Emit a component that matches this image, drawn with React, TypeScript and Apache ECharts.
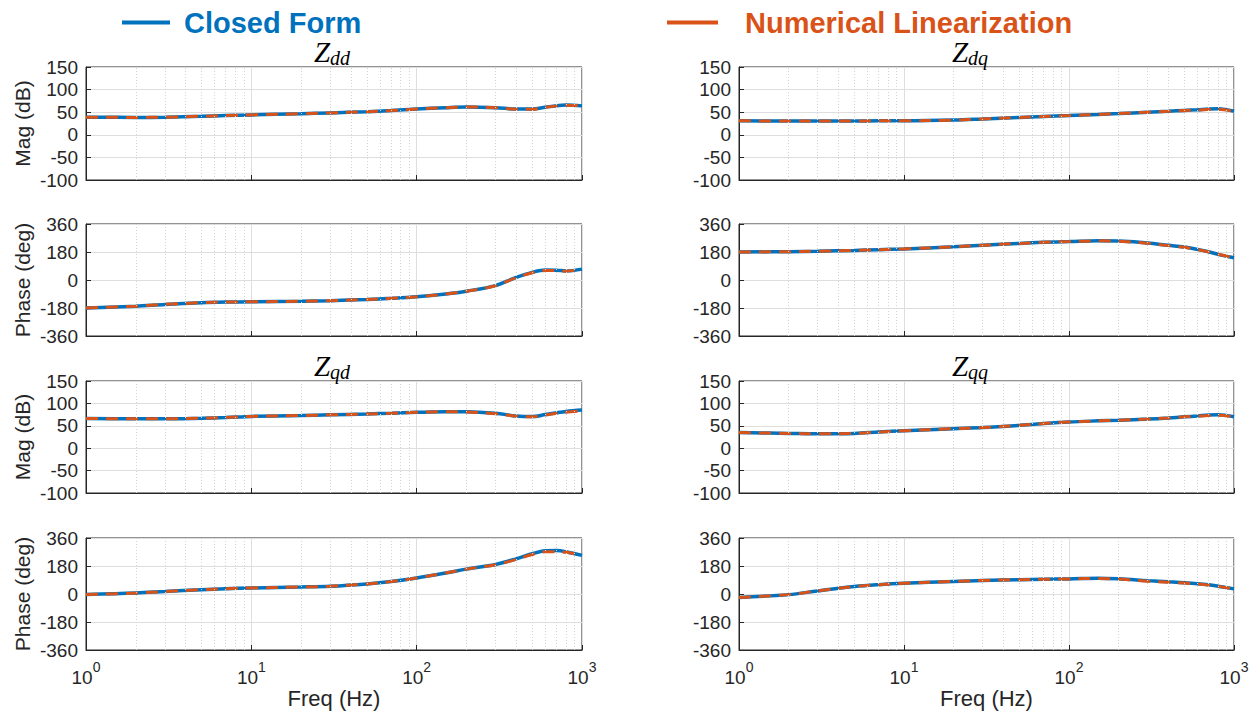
import React, { useEffect, useRef } from "react";
import * as echarts from "echarts";

// Frequency samples (Hz)
const freq = [1, 2, 3, 5, 7, 10, 20, 30, 50, 70, 100, 150, 200, 300, 400, 500, 600, 700, 800, 1000];

// Z_dd
const zddMagCF = [39, 38.5, 39, 41, 42.5, 44, 46.5, 48.5, 51, 53.5, 57, 60, 61.5, 60, 57, 57, 61, 64.5, 66, 64];
const zddMagNL = [39, 38.5, 39, 41, 42.5, 44, 46.5, 48.5, 51, 53.5, 57, 60, 61.5, 60, 56.5, 56.5, 60.5, 64, 65.5, 64];
const zddPhCF = [-180, -168, -157, -146, -142, -140, -137, -133, -125, -118, -108, -90, -72, -36, 17, 49, 64, 63, 58, 70];
const zddPhNL = [-180, -168, -157, -146, -142, -140, -137, -133, -125, -118, -108, -90, -72, -37, 15, 47, 61, 61, 57, 70];

// Z_dq
const zdqMagCF = [31, 30.5, 30.5, 30.5, 31, 31, 32.5, 35, 38.5, 40.5, 42.5, 45, 47, 50, 52, 54, 55.5, 57, 57.5, 52];
const zdqMagNL = [31, 30.5, 30.5, 30.5, 31, 31, 32.5, 35, 38.5, 40.5, 42.5, 45, 47, 50, 52, 54, 55, 56, 56.5, 52];
const zdqPhCF = [180, 182, 185, 190, 195, 200, 213, 223, 235, 242, 247, 253, 250, 238, 223, 212, 197, 182, 165, 143];
const zdqPhNL = [180, 182, 185, 190, 195, 200, 213, 223, 235, 242, 247, 252, 249, 236, 221, 210, 196, 181, 165, 143];

// Z_qd
const zqdMagCF = [66.5, 65.5, 65.5, 67, 68.5, 71, 73, 74.5, 76.5, 78, 80, 81.5, 81.5, 78, 72, 70.5, 75, 79, 82, 85];
const zqdMagNL = [66.5, 65.5, 65.5, 67, 68.5, 71, 73, 74.5, 76.5, 78, 80, 81.5, 81, 77, 71.5, 70, 74, 78, 80.5, 83];
const zqdPhCF = [-3, 6, 16, 28, 34, 39, 45, 50, 65, 80, 103, 135, 160, 190, 226, 259, 278, 280, 272, 248];
const zqdPhNL = [-3, 6, 16, 28, 34, 39, 45, 50, 65, 80, 103, 135, 160, 188, 222, 254, 271, 272, 268, 248];

// Z_qq
const zqqMagCF = [35, 33, 32, 33, 36, 39, 43.5, 46, 51, 55, 58.5, 61, 62.5, 65, 67.5, 70, 72, 74, 74.5, 70];
const zqqMagNL = [35, 33, 32, 33, 36, 39, 43.5, 46, 51, 55, 58.5, 61, 62.5, 65, 67.5, 70, 71.5, 73, 73.5, 70];
const zqqPhCF = [-22, -4, 20, 48, 60, 69, 81, 87, 92, 95, 97, 102, 98, 86, 78, 72, 66, 59, 50, 33];
const zqqPhNL = [-22, -4, 20, 48, 60, 69, 81, 87, 92, 95, 97, 100, 96, 82, 75, 70, 64, 57, 49, 33];

// Axis ticks
const magTicks = { min: -100, max: 150, interval: 50 };
const phaseTicks = { min: -360, max: 360, interval: 180 };
const minorGridFreq = [2, 3, 4, 5, 6, 7, 8, 9, 20, 30, 40, 50, 60, 70, 80, 90, 200, 300, 400, 500, 600, 700, 800, 900];

const seriesNames = ["Closed Form", "Numerical Linearization"];
const titles = ["dd", "dq", "qd", "qq"];

const BLUE = "#0072BD";
const ORANGE = "#D95319";
const AX = "#262626";
const FONT = "'Liberation Sans', Arial, sans-serif";
const SERIF = "'Liberation Serif', 'DejaVu Serif', serif";

export default function App() {
  const ref = useRef<HTMLDivElement>(null);

  useEffect(() => {
    if (!ref.current) return;
    const chart = echarts.init(ref.current, undefined, { renderer: "svg" });

    const panels = [
      { cf: zddMagCF, nl: zddMagNL, kind: "mag", col: 0, row: 0 },
      { cf: zdqMagCF, nl: zdqMagNL, kind: "mag", col: 1, row: 0 },
      { cf: zddPhCF, nl: zddPhNL, kind: "ph", col: 0, row: 1 },
      { cf: zdqPhCF, nl: zdqPhNL, kind: "ph", col: 1, row: 1 },
      { cf: zqdMagCF, nl: zqdMagNL, kind: "mag", col: 0, row: 2 },
      { cf: zqqMagCF, nl: zqqMagNL, kind: "mag", col: 1, row: 2 },
      { cf: zqdPhCF, nl: zqdPhNL, kind: "ph", col: 0, row: 3 },
      { cf: zqqPhCF, nl: zqqPhNL, kind: "ph", col: 1, row: 3 },
    ];

    const colLeft = [86, 739];
    const colWidth = [496, 495];
    const rowTop = [67, 224, 381, 538];
    const rowH = [113, 112, 112, 112];

    const grids: any[] = [];
    const xAxes: any[] = [];
    const yAxes: any[] = [];
    const series: any[] = [];

    panels.forEach((p, i) => {
      grids.push({
        left: colLeft[p.col],
        top: rowTop[p.row],
        width: colWidth[p.col],
        height: rowH[p.row],
        show: true,
        borderColor: AX,
        borderWidth: 1,
        backgroundColor: "#ffffff",
      });
      const bottomRow = p.row === 3;
      xAxes.push({
        type: "log",
        logBase: 10,
        gridIndex: i,
        min: 1,
        max: 1000,
        splitNumber: 3,
        name: bottomRow ? "Freq (Hz)" : "",
        nameLocation: "middle",
        nameGap: 35,
        nameTextStyle: { color: AX, fontSize: 22, fontFamily: FONT },
        axisLine: { show: true, onZero: false, lineStyle: { color: AX, width: 1 } },
        axisTick: { show: true, inside: true, length: 5, lineStyle: { color: AX } },
        axisLabel: {
          show: bottomRow,
          margin: 10,
          color: AX,
          fontFamily: FONT,
          formatter: (v: number) => "{b|10}{s|" + Math.round(Math.log10(v)) + "}",
          rich: {
            b: { fontSize: 19, lineHeight: 27, verticalAlign: "bottom", color: AX, fontFamily: FONT },
            s: { fontSize: 14, lineHeight: 12, verticalAlign: "top", color: AX, fontFamily: FONT },
          },
        },
        splitLine: { show: true, lineStyle: { color: "#dedede", width: 1 } },
      });
      const t = p.kind === "mag" ? magTicks : phaseTicks;
      yAxes.push({
        type: "value",
        gridIndex: i,
        min: t.min,
        max: t.max,
        interval: t.interval,
        name: p.col === 0 ? (p.kind === "mag" ? "Mag (dB)" : "Phase (deg)") : "",
        nameLocation: "middle",
        nameGap: 53,
        nameTextStyle: { color: AX, fontSize: 21, fontFamily: FONT },
        axisLine: { show: true, onZero: false, lineStyle: { color: AX, width: 1 } },
        axisTick: { show: true, inside: true, length: 5, lineStyle: { color: AX } },
        axisLabel: { margin: 8, color: AX, fontSize: 19, fontFamily: FONT },
        splitLine: { show: true, lineStyle: { color: "#dedede", width: 1 } },
      });
      series.push({
        name: "minor-grid-" + i,
        type: "line",
        xAxisIndex: i,
        yAxisIndex: i,
        data: [],
        silent: true,
        markLine: {
          silent: true,
          symbol: ["none", "none"],
          label: { show: false },
          lineStyle: { color: "#d4d4d4", type: [1, 2], width: 1 },
          emphasis: { disabled: true },
          data: minorGridFreq.map((f) => ({ xAxis: f })),
        },
        z: 1,
      });
      series.push({
        name: seriesNames[0],
        type: "line",
        xAxisIndex: i,
        yAxisIndex: i,
        data: freq.map((f, k) => [f, p.cf[k]]),
        smooth: 0.35,
        symbol: "none",
        lineStyle: { color: BLUE, width: 3.5 },
        itemStyle: { color: BLUE },
        z: 3,
      });
      series.push({
        name: seriesNames[1],
        type: "line",
        xAxisIndex: i,
        yAxisIndex: i,
        data: freq.map((f, k) => [f, p.nl[k]]),
        smooth: 0.35,
        symbol: "none",
        lineStyle: { color: ORANGE, width: 3, type: [12, 8] },
        itemStyle: { color: ORANGE },
        z: 4,
      });
    });

    const titlePos = [
      { x: 332, y: 36 },
      { x: 970, y: 36 },
      { x: 332, y: 350 },
      { x: 970, y: 350 },
    ];
    const titleComps = titles.map((sub, i) => ({
      text: "{z|Z}{s|" + sub + "}",
      left: titlePos[i].x,
      top: titlePos[i].y,
      textAlign: "center",
      padding: 0,
      textStyle: {
        fontWeight: "normal",
        rich: {
          z: { fontSize: 29, lineHeight: 32, fontStyle: "italic", fontWeight: "normal", fontFamily: SERIF, color: "#000" },
          s: { fontSize: 20, lineHeight: 18, verticalAlign: "bottom", fontStyle: "italic", fontWeight: "normal", fontFamily: SERIF, color: "#000" },
        },
      },
    }));

    chart.setOption({
      animation: false,
      backgroundColor: "#ffffff",
      title: titleComps,
      legend: [
        {
          data: [seriesNames[0]],
          left: 122,
          top: 8,
          padding: 0,
          itemWidth: 48,
          itemHeight: 4,
          icon: "rect",
          selectedMode: false,
          itemStyle: { color: BLUE },
          textStyle: { color: BLUE, fontSize: 29, fontWeight: "bold", fontFamily: FONT, padding: [0, 0, 0, 9] },
        },
        {
          data: [seriesNames[1]],
          left: 667,
          top: 8,
          padding: 0,
          itemWidth: 51,
          itemHeight: 4,
          icon: "rect",
          selectedMode: false,
          itemStyle: { color: ORANGE },
          textStyle: { color: ORANGE, fontSize: 29, fontWeight: "bold", fontFamily: FONT, padding: [0, 0, 0, 22] },
        },
      ],
      grid: grids,
      xAxis: xAxes,
      yAxis: yAxes,
      series,
    });

    return () => chart.dispose();
  }, []);

  return (
    <div
      ref={ref}
      style={{ position: "absolute", left: 0, top: 0, width: 1260, height: 713, background: "#fff" }}
    />
  );
}
